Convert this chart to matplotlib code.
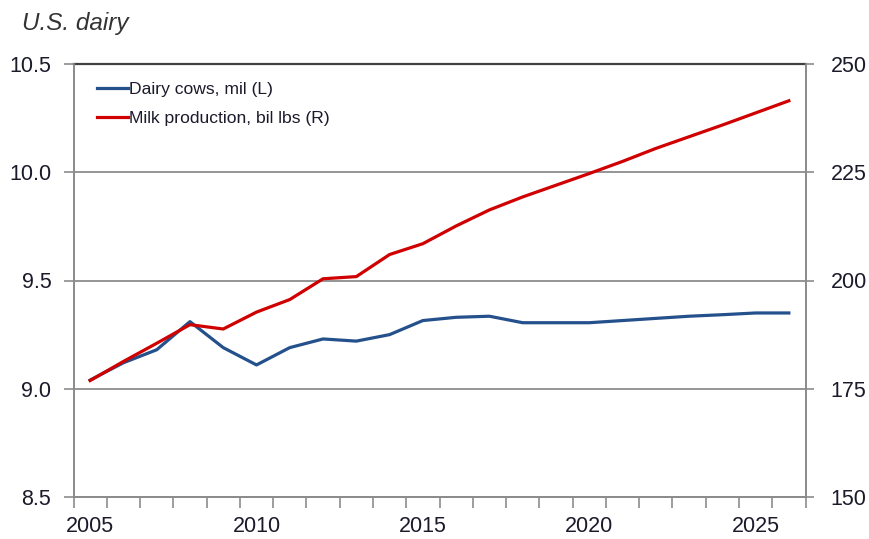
import matplotlib
matplotlib.use("Agg")
import matplotlib.pyplot as plt
from matplotlib.ticker import FixedLocator, NullFormatter

plt.rcParams['font.family'] = ['Liberation Sans', 'DejaVu Sans']

years = list(range(2005, 2027))
dairy_cows = [9.04, 9.12, 9.18, 9.31, 9.19, 9.11, 9.19, 9.23, 9.22, 9.25,
              9.315, 9.33, 9.335, 9.305, 9.305, 9.305, 9.315, 9.325, 9.335,
              9.342, 9.35, 9.35]
milk_production = [176.9, 181.3, 185.5, 189.8, 188.8, 192.7, 195.6, 200.4,
                   200.9, 206.0, 208.5, 212.6, 216.3, 219.3, 222.0, 224.7,
                   227.5, 230.5, 233.2, 235.9, 238.7, 241.5]
left_ticks = [8.5, 9.0, 9.5, 10.0, 10.5]
right_ticks = [150, 175, 200, 225, 250]
year_labels = [2005, 2010, 2015, 2020, 2025]

BLUE = '#24508C'
RED = '#D00000'
GRID = '#8C8C8C'
TEXT = '#1a1a2a'

W, H = 869, 539
fig = plt.figure(figsize=(W / 100, H / 100), dpi=100)
L, R, T, B = 73.5, 805.5, 64, 497
ax = fig.add_axes([L / W, 1 - B / H, (R - L) / W, (B - T) / H])
ax2 = ax.twinx()

ax.plot(years, dairy_cows, color=BLUE, lw=2.3, solid_joinstyle='round',
        label='Dairy cows, mil (L)')
ax2.plot(years, milk_production, color=RED, lw=2.3, solid_joinstyle='round',
         label='Milk production, bil lbs (R)')

ax.set_xlim(2004.5, 2026.5)
ax.set_ylim(8.5, 10.5)
ax2.set_ylim(150, 250)

ax.set_yticks(left_ticks)
ax.set_yticklabels(['8.5', '9.0', '9.5', '10.0', '10.5'])
ax2.set_yticks(right_ticks)

ax.xaxis.set_major_locator(FixedLocator(year_labels))
ax.xaxis.set_minor_locator(FixedLocator([y - 0.5 for y in years] + [years[-1] + 0.5]))
ax.xaxis.set_minor_formatter(NullFormatter())
ax.tick_params(axis='x', which='major', length=0, pad=14, labelsize=15.5, labelcolor=TEXT)
ax.tick_params(axis='x', which='minor', length=8, width=1.2, color=GRID, direction='out')
ax.tick_params(axis='y', length=7, width=1.2, color=GRID, pad=9, labelsize=15.5,
               labelcolor=TEXT)
ax2.tick_params(axis='y', length=6, width=1.2, color=GRID, pad=12, labelsize=15.5,
                labelcolor=TEXT)

for a in (ax, ax2):
    for s in a.spines.values():
        s.set_color(GRID)
        s.set_linewidth(1.3)
ax2.spines['top'].set_visible(False)
ax.spines['top'].set_color('#404040')
ax.spines['top'].set_linewidth(1.6)

ax.yaxis.grid(True, color=GRID, lw=1.3)
ax.set_axisbelow(True)

h1, l1 = ax.get_legend_handles_labels()
h2, l2 = ax2.get_legend_handles_labels()
leg = ax2.legend(h1 + h2, l1 + l2, loc='upper left',
                 bbox_to_anchor=(90 / W, 1 - 75 / H), bbox_transform=fig.transFigure,
                 frameon=False, fontsize=12.6, handlelength=1.75, handletextpad=0.1,
                 labelspacing=0.75, borderaxespad=0)
for t in leg.get_texts():
    t.set_color(TEXT)

fig.text(22 / W, 1 - 30 / H, 'U.S. dairy', fontsize=17.5, style='italic',
         color='#333333', ha='left', va='baseline')

fig.savefig('out.png', dpi=100, facecolor='white')
